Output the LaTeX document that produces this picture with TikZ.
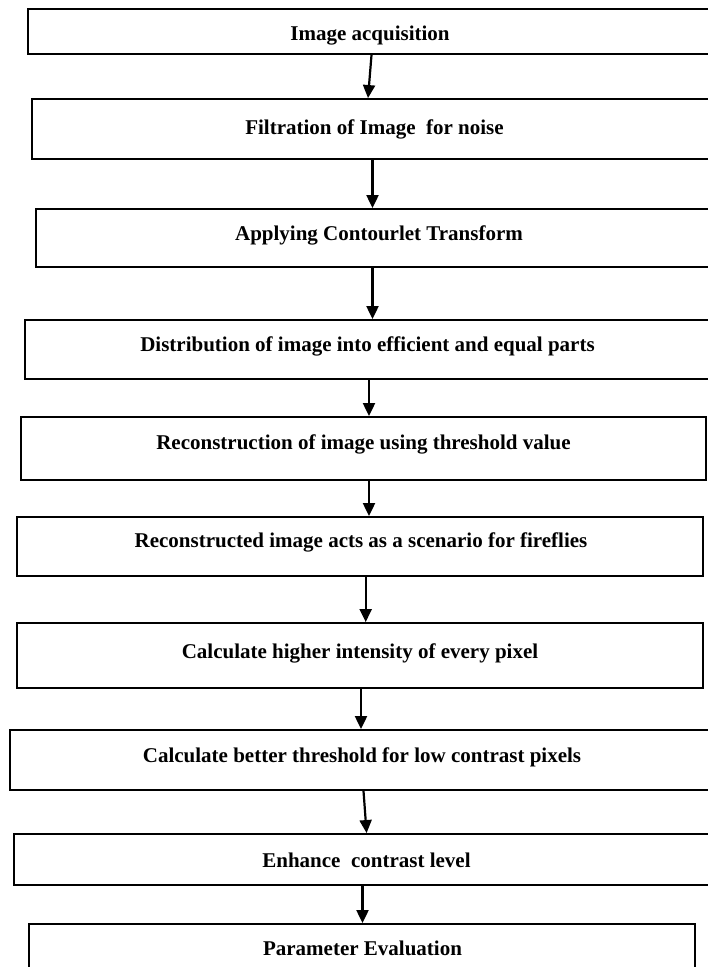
\documentclass[tikz,border=0pt]{standalone}
\usepackage{fontspec}
\setmainfont{Liberation Serif}
\usetikzlibrary{arrows.meta,calc}
\begin{document}
\begin{tikzpicture}[x=1pt,y=-1pt,
  box/.style={draw, line width=1.9pt, rectangle, inner sep=0pt},
  lbl/.style={font=\fontsize{21}{25}\selectfont\bfseries, inner sep=0pt, anchor=base},
  arr/.style={line width=2.2pt, -{Triangle[width=12pt,length=13pt]}}]
\useasboundingbox (0,0) rectangle (708,967);
\fill[white] (0,0) rectangle (708,967);
% boxes
\node[box, minimum width=684pt, minimum height=45pt] (b1) at (370,31.5) {};
\node[box, minimum width=680pt, minimum height=60pt] (b2) at (372,129) {};
\node[box, minimum width=676pt, minimum height=58pt] (b3) at (374,238) {};
\node[box, minimum width=687pt, minimum height=59pt] (b4) at (368.5,349.5) {};
\node[box, minimum width=685pt, minimum height=63pt] (b5) at (363.5,448.5) {};
\node[box, minimum width=685.4pt, minimum height=59pt] (b6) at (360,546.5) {};
\node[box, minimum width=685.4pt, minimum height=65pt] (b7) at (360,655.5) {};
\node[box, minimum width=702pt, minimum height=60pt] (b8) at (361,760) {};
\node[box, minimum width=698pt, minimum height=51pt] (b9) at (363,859.5) {};
\node[box, minimum width=666pt, minimum height=56pt] (b10) at (362,952) {};
% labels
\node[lbl] (t1) at (370,40) {Image acquisition};
\node[lbl] (t2) at (374.5,134.5) {Filtration of Image\ \ for noise};
\node[lbl] (t3) at (379,240) {Applying Contourlet Transform};
\node[lbl] (t4) at (367.5,351) {Distribution of image into efficient and equal parts};
\node[lbl] (t5) at (363.5,449.7) {Reconstruction of image using threshold value};
\node[lbl] (t6) at (361,547) {Reconstructed image acts as a scenario for fireflies};
\node[lbl] (t7) at (360,658.7) {Calculate higher intensity of every pixel};
\node[lbl] (t8) at (362,762) {Calculate better threshold for low contrast pixels};
\node[lbl] (t9) at (366.5,867) {Enhance\ \ contrast level};
\node[lbl] (t10) at (362.5,955) {Parameter Evaluation};
% arrows
\draw[arr] ($(b1.south)+(1.5,0)$) -- ($(b2.north)+(-4,0)$);
\draw[arr] ($(b2.south)+(0.5,0)$) -- ($(b3.north)+(-1.5,0)$);
\draw[arr] ($(b3.south)+(-1.5,0)$) -- ($(b4.north)+(4,0)$);
\draw[arr] ($(b4.south)+(0.5,0)$) -- ($(b5.north)+(5.5,0)$);
\draw[arr] ($(b5.south)+(5.5,0)$) -- ($(b6.north)+(9,0)$);
\draw[arr] ($(b6.south)+(5.7,0)$) -- ($(b7.north)+(5.7,0)$);
\draw[arr] ($(b7.south)+(1,0)$) -- ($(b8.north)+(0,0)$);
\draw[arr] ($(b8.south)+(2.5,0)$) -- ($(b9.north)+(3.6,0)$);
\draw[arr] ($(b9.south)+(-0.5,0)$) -- ($(b10.north)+(0.5,0)$);
\end{tikzpicture}
\end{document}
